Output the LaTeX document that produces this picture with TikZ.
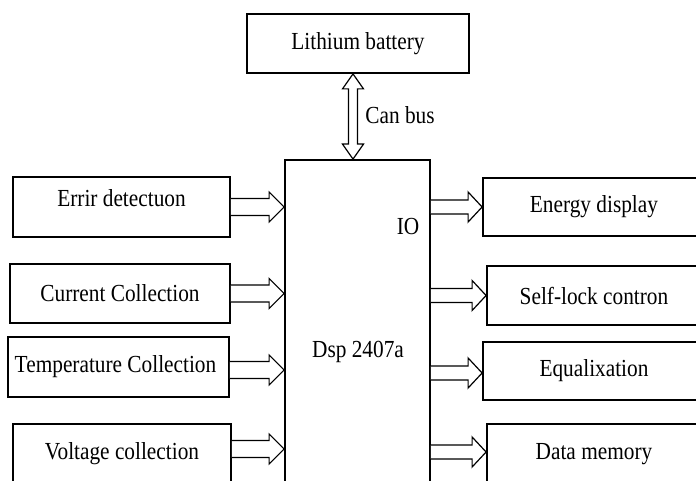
\documentclass[tikz,border=0pt]{standalone}
\usepackage{fontspec}
\setmainfont[FakeStretch=0.87]{Liberation Serif}
\usetikzlibrary{calc}

\tikzset{
  txt/.style={font=\fontsize{24.5}{29}\selectfont, inner sep=0pt},
  blk/.style={txt, draw, line width=1.8pt, minimum width=#1},
  hollow/.style={draw, line width=1.2pt, fill=white, line join=miter},
}

% hollow block arrow pointing right: start, tip, shaft half-width, head half-width, head length
\newcommand\blockarrow[5]{%
  \draw[hollow] let \p1=(#1), \p2=(#2) in
    (\x1,\y1+#3) -- (\x2-#5,\y1+#3) -- (\x2-#5,\y1+#4) -- (\x2,\y1)
    -- (\x2-#5,\y1-#4) -- (\x2-#5,\y1-#3) -- (\x1,\y1-#3);}

\begin{document}
\begin{tikzpicture}[x=1pt, y=-1pt]
  \useasboundingbox (0,0) rectangle (696,481);
  \clip (0,0) rectangle (696,481);

  % central processor and battery
  \node[blk=222pt, minimum height=59pt] (bat) at (358,43.5) {Lithium battery};
  \node[blk=145pt, minimum height=335pt] (dsp) at (357.5,327.5) {};
  \node[txt] (dsplbl) at (358,352) {Dsp 2407a};
  \node[txt] (io) at (408,227) {IO};
  \node[txt] (can) at (400,115) {Can bus};

  % inputs
  \node[blk=217pt, minimum height=60pt,
        label={[txt, yshift=9pt]center:Errir detectuon}] (err) at (121.5,207) {};
  \node[blk=220pt, minimum height=59pt] (cur) at (120,293.5) {Current Collection};
  \node[blk=221pt, minimum height=60pt] (tmp) at (118.5,367) {\hspace*{-6pt}Temperature Collection};
  \node[blk=218pt, minimum height=60pt] (vol) at (122,454) {Voltage collection};

  % outputs
  \node[blk=222pt, minimum height=58pt] (ene) at (594,207) {Energy display};
  \node[blk=214pt, minimum height=59pt] (slf) at (594,295.5) {Self-lock contron};
  \node[blk=222pt, minimum height=58pt] (equ) at (594,371) {Equalixation};
  \node[blk=214pt, minimum height=60pt] (dat) at (594,454) {Data memory};

  % CAN bus double arrow
  \draw[hollow] let \p1=($(bat.south)+(-5,0)$), \p2=($(dsp.north)+(-4.5,0)$) in
    (\x1,\y1) -- (\x1+10.5pt,\y1-15pt) -- (\x1+4.5pt,\y1-15pt) -- (\x1+4.5pt,\y2+15pt)
    -- (\x1+10.5pt,\y2+15pt) -- (\x1,\y2) -- (\x1-10.5pt,\y2+15pt) -- (\x1-4.5pt,\y2+15pt)
    -- (\x1-4.5pt,\y1-15pt) -- (\x1-10.5pt,\y1-15pt) -- cycle;

  % input arrows
  \blockarrow{err.east}{err.east -| dsp.west}{8.5pt}{15pt}{15pt}
  \blockarrow{cur.east}{cur.east -| dsp.west}{8.5pt}{15pt}{15pt}
  \blockarrow{$(tmp.east)+(0,3)$}{$(tmp.east -| dsp.west)+(0,3)$}{8.5pt}{15pt}{15pt}
  \blockarrow{$(vol.east)+(0,-5)$}{$(vol.east -| dsp.west)+(0,-5)$}{8.5pt}{15pt}{15pt}

  % output arrows
  \blockarrow{dsp.east |- ene.west}{ene.west}{7pt}{15pt}{14pt}
  \blockarrow{dsp.east |- slf.west}{slf.west}{7pt}{15pt}{14pt}
  \blockarrow{$(dsp.east |- equ.west)+(0,2)$}{$(equ.west)+(0,2)$}{7pt}{15pt}{14pt}
  \blockarrow{$(dsp.east |- dat.west)+(0,-2)$}{$(dat.west)+(0,-2)$}{7pt}{15pt}{14pt}
\end{tikzpicture}
\end{document}
